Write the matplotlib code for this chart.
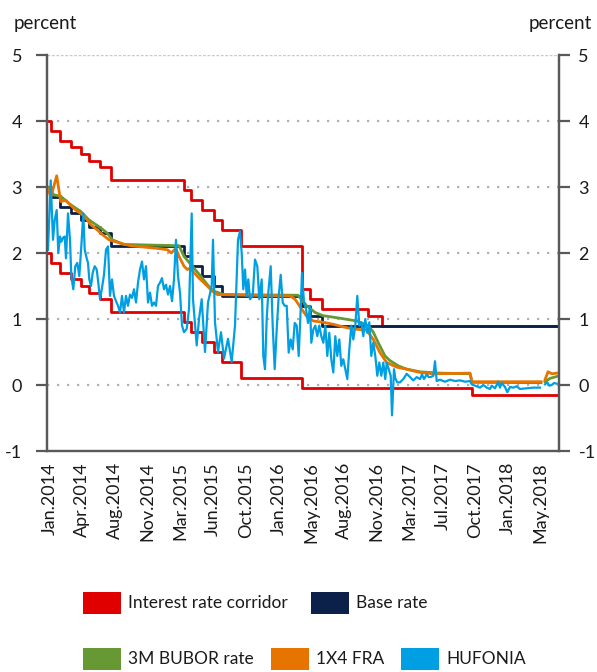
import numpy as np
import matplotlib
matplotlib.use("Agg")
import matplotlib.pyplot as plt
from matplotlib.patches import Rectangle

plt.rcParams['font.family'] = ['Lato', 'DejaVu Sans']
plt.rcParams['lines.scale_dashes'] = False
plt.rcParams['axes.unicode_minus'] = False

# ---------------- data (x = observation index along the time axis) ----------------
tick_labels = ["Jan.2014", "Apr.2014", "Aug.2014", "Nov.2014", "Mar.2015", "Jun.2015",
               "Oct.2015", "Jan.2016", "May.2016", "Aug.2016", "Nov.2016", "Mar.2017",
               "Jul.2017", "Oct.2017", "Jan.2018", "May.2018"]

# step series: value holds from each breakpoint until the next one
step_x   = [0, 3.5, 12.5, 24, 33.5, 41.5, 52.5, 64, 137, 143.7, 155, 167, 175, 193.7, 254.7, 263, 274.7, 321.3, 334.7, 424.7, 510]
base     = [3.00, 2.85, 2.70, 2.60, 2.50, 2.40, 2.30, 2.10, 1.95, 1.80, 1.65, 1.50, 1.35, 1.35, 1.20, 1.05, 0.90, 0.90, 0.90, 0.90, 0.90]
corr_up  = [4.00, 3.85, 3.70, 3.60, 3.50, 3.40, 3.30, 3.10, 2.95, 2.80, 2.65, 2.50, 2.35, 2.10, 1.45, 1.30, 1.15, 1.05, 0.90, 0.90, 0.90]
corr_lo  = [2.00, 1.85, 1.70, 1.60, 1.50, 1.40, 1.30, 1.10, 0.95, 0.80, 0.65, 0.50, 0.35, 0.10, -0.05, -0.05, -0.05, -0.05, -0.05, -0.15, -0.15]

bubor_x = [0, 1, 7, 13.7, 22, 28.7, 33.7, 42, 47, 53.7, 60.3, 65.3, 77, 132, 137, 145.3, 153.7, 160.3, 167, 177,
           251, 259.7, 268, 276, 289.7, 309.7, 321.3, 326.3, 331.3, 338, 343, 351.3, 359.7, 373, 393, 423,
           425, 494, 496, 498, 503, 510]
bubor   = [3.0, 3.0, 2.88, 2.86, 2.75, 2.68, 2.63, 2.5, 2.45, 2.38, 2.3, 2.2, 2.13, 2.11, 1.95, 1.8, 1.65, 1.52, 1.42, 1.37,
           1.36, 1.2, 1.1, 1.05, 1.02, 0.97, 0.9, 0.8, 0.64, 0.44, 0.37, 0.29, 0.24, 0.2, 0.18, 0.17,
           0.04, 0.035, np.nan, 0.05, 0.1, 0.13]

fra_x = [0, 4, 9.7, 13.7, 18.7, 22, 28.7, 33.7, 38.7, 43.7, 50.3, 55.3, 62, 68.7, 75.3, 83.7, 97, 110.3, 120.3, 124.3,
         128.7, 132, 137, 140.3, 143, 147, 152, 160.3, 165.3, 170.3, 243, 248, 254.7, 259.7, 266.3, 276.3, 286.3,
         296.3, 306, 319.7, 326.3, 333, 339.7, 349.7, 359.7, 373, 386, 423, 425, 494, 496, 498, 501, 505, 510]
fra   = [3.0, 2.85, 3.17, 2.78, 2.8, 2.75, 2.65, 2.6, 2.53, 2.43, 2.35, 2.28, 2.2, 2.17, 2.14, 2.11, 2.09, 2.07, 2.05, 2.0,
         2.07, 1.95, 1.8, 1.75, 1.77, 1.7, 1.62, 1.5, 1.42, 1.37, 1.35, 1.3, 1.15, 1.04, 0.97, 0.95, 0.92,
         0.88, 0.85, 0.83, 0.69, 0.49, 0.34, 0.27, 0.24, 0.19, 0.17, 0.18, 0.05, 0.05, np.nan, 0.08, 0.2, 0.17, 0.18]

hufonia_x = [1, 3.7, 6, 7.7, 9.7, 11.3, 13, 14.3, 16, 17.7, 19, 21, 23, 24.3, 26.3, 28.3, 30.3, 32.3, 34.3, 36.3,
             37.7, 39.7, 41, 42.3, 44, 45.7, 47.7, 49.7, 51.3, 53, 55, 57, 59, 61, 63, 65, 67, 69, 71, 73,
             75, 77, 79, 81, 83, 85, 87, 89, 91, 93, 95, 97, 99, 101, 103, 105, 107, 109, 111, 113,
             115, 117, 119, 121, 123, 125, 127, 129, 131, 133, 135, 137, 139.7, 142, 144.7, 146, 149.7, 152, 154.7, 158,
             161, 164.7, 166, 168, 171, 174, 177, 181, 184.7, 188, 191, 193, 194.7, 196.3, 198, 199.7, 201.3, 203, 205.7, 208,
             210.3, 212.3, 214.7, 216.3, 218, 219.7, 221.3, 223.7, 225.7, 227.7, 229.7, 231.7, 233.7, 235.7, 237.7, 239.7, 241.7, 243.7, 245.7, 247.7,
             249.7, 251.7, 253.7, 255, 257, 259, 261, 263, 264.3, 266.3, 268.3, 270.3, 272.3, 274.3, 276.3, 278.3, 280.3, 282.3, 284.3, 286.3,
             288.3, 290.3, 292.3, 294.3, 296.3, 298.3, 300.3, 302.3, 304.3, 306.3, 308.3, 310.3, 312.3, 314.3, 316.3, 318.3, 320.3, 322.3, 324.3, 326.3,
             328.3, 330.3, 332.3, 334.3, 336.3, 338.3, 339.7, 341.7, 343.7, 345, 347, 348.3, 350.3, 353, 356.3, 359.7, 363, 366.3, 369.7, 373,
             375, 377, 379.7, 381.7, 383.7, 386.3, 388, 389.7, 393, 398, 403, 408, 413, 418, 423, 424.7, 429.7, 433, 436.3, 439.7,
             443, 444.7, 448, 451.3, 453, 454.7, 458, 460.3, 463, 466.3, 469.7, 473, 479.7, 486.3, 493, 495, 498, 500.3, 502.3, 504.7,
             507, 509.7]
hufonia   = [2.05, 3.10, 2.2, 2.5, 2.65, 2.0, 2.25, 2.17, 2.23, 2.25, 1.92, 2.6, 2.2, 1.65, 1.45, 1.8, 1.85, 1.65, 2.1, 2.6,
             2.05, 1.92, 1.85, 1.6, 1.5, 1.7, 1.8, 1.75, 1.55, 1.3, 1.47, 1.67, 2.05, 2.1, 1.35, 1.6, 1.35, 1.27, 1.2, 1.1,
             1.35, 1.1, 1.35, 1.2, 1.37, 1.32, 1.45, 1.25, 1.55, 1.75, 1.87, 1.6, 1.8, 1.25, 1.4, 1.2, 1.25, 1.2, 1.5, 1.55,
             1.62, 1.45, 1.52, 1.37, 1.5, 1.27, 1.6, 2.2, 1.65, 1.4, 0.9, 0.8, 0.85, 1.15, 2.6, 1.3, 0.6, 1.0, 1.3, 0.5,
             1.25, 1.5, 2.2, 0.95, 0.5, 0.8, 0.4, 0.7, 0.35, 0.9, 2.2, 2.33, 2.0, 1.45, 1.75, 1.35, 1.6, 1.3, 1.35, 1.9,
             1.8, 1.3, 1.6, 0.44, 0.24, 1.0, 1.4, 1.8, 0.9, 0.24, 0.84, 1.35, 1.67, 1.25, 1.2, 1.2, 0.49, 0.69, 0.54, 0.94,
             0.9, 0.44, 1.15, 1.7, 1.25, 1.15, 0.94, 1.2, 0.64, 0.84, 0.9, 0.74, 0.9, 0.74, 0.64, 0.9, 0.44, 0.79, 0.39, 0.19,
             0.74, 0.44, 0.69, 0.29, 0.39, 0.24, 0.09, 0.54, 0.9, 0.69, 0.9, 1.35, 0.9, 0.95, 0.74, 1.0, 0.79, 0.95, 0.44, 0.64,
             0.44, 0.14, 0.34, 0.14, 0.34, 0.09, 0.34, 0.24, 0.14, -0.46, 0.24, 0.1, 0.04, 0.04, 0.09, 0.17, 0.12, 0.07, 0.12, 0.09,
             0.16, 0.09, 0.16, 0.12, 0.12, 0.14, 0.36, 0.06, 0.08, 0.05, 0.08, 0.06, 0.07, 0.05, 0.06, 0.01, -0.02, -0.04, 0.0, -0.04,
             -0.06, -0.01, -0.05, 0.05, -0.04, 0.03, -0.03, -0.11, -0.03, -0.04, -0.02, -0.06, -0.05, -0.04, -0.04, np.nan, 0.01, 0.04, -0.01, 0.0,
             0.03, 0.02]

# ---------------- style ----------------
C_RED, C_NAVY, C_GREEN, C_ORANGE, C_BLUE = "#e00000", "#0c2149", "#669933", "#e87400", "#009fe3"
W, H = 597, 672

fig = plt.figure(figsize=(W / 100, H / 100), dpi=100)
ax = fig.add_axes([47 / W, 1 - 451 / H, 512 / W, 396 / H])
ax2 = ax.twinx()

for y in [0, 1, 2, 3, 4]:
    ax.axhline(y, color="#b0b0b0", lw=1.6, ls=(0, (1.6, 5.6)), zorder=0)
ax.axhline(5, color="#c8c8c8", lw=1.0, ls=(0, (2, 1.2)), zorder=0)

ax.plot(step_x, corr_up, color=C_RED, lw=2.0, drawstyle="steps-post", zorder=2)
ax.plot(step_x, corr_lo, color=C_RED, lw=2.0, drawstyle="steps-post", zorder=2)
ax.plot(step_x, base, color=C_NAVY, lw=2.0, drawstyle="steps-post", zorder=3)
ax.plot(bubor_x, bubor, color=C_GREEN, lw=2.0, zorder=4)
ax.plot(fra_x, fra, color=C_ORANGE, lw=2.0, zorder=5)
ax.plot(hufonia_x, hufonia, color=C_BLUE, lw=1.6, zorder=6)

for a in (ax, ax2):
    a.set_ylim(-1, 5)
    a.set_yticks(range(-1, 6))
    for s in a.spines.values():
        s.set_color("#595959")
        s.set_linewidth(1.6)
    a.spines["top"].set_visible(False)
ax.set_xlim(0, 512)
ax.spines["bottom"].set_color("#707070")

ax.tick_params(axis="y", direction="out", length=8, width=1.6, color="#595959",
               labelsize=13, pad=10, labelcolor="#1a1a1a")
ax2.tick_params(axis="y", direction="out", length=8, width=1.6, color="#595959",
                labelsize=13, pad=6, labelcolor="#1a1a1a")
tick_x = 2.5 + 32.73 * np.arange(len(tick_labels))
ax.set_xticks(tick_x)
ax.set_xticklabels(tick_labels, rotation=90, fontsize=13, color="#1a1a1a")
ax.tick_params(axis="x", length=0, pad=8)

fig.text(14 / W, 1 - 28.5 / H, "percent", fontsize=13.5, va="baseline", ha="left", color="#1a1a1a")
fig.text(592 / W, 1 - 28.5 / H, "percent", fontsize=13.5, va="baseline", ha="right", color="#1a1a1a")

# legend (manual)
def legend_item(px, py, color, label):
    fig.add_artist(Rectangle((px / W, 1 - (py + 22) / H), 38 / W, 22 / H,
                             transform=fig.transFigure, facecolor=color, edgecolor="none"))
    fig.text((px + 45) / W, 1 - (py + 11) / H, label, fontsize=12.5, va="center", ha="left", color="#1a1a1a")

legend_item(83, 592, C_RED, "Interest rate corridor")
legend_item(311, 592, C_NAVY, "Base rate")
legend_item(83, 648, C_GREEN, "3M BUBOR rate")
legend_item(271, 648, C_ORANGE, "1X4 FRA")
legend_item(401, 648, C_BLUE, "HUFONIA")

fig.savefig("out.png", dpi=100)
